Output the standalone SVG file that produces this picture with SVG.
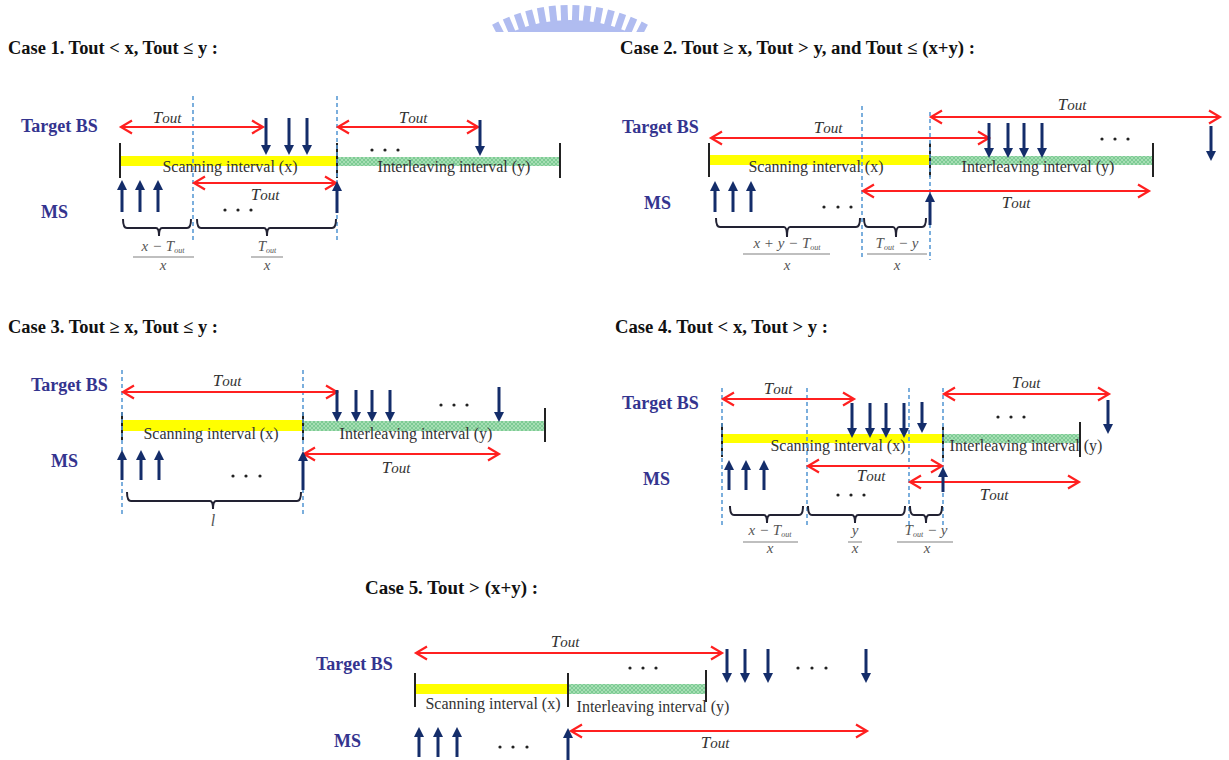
<svg xmlns="http://www.w3.org/2000/svg" width="1229" height="760" viewBox="0 0 1229 760">
<style>
.title{font-family:"Liberation Serif",serif;font-weight:bold;font-size:18px;fill:#111}
.lab{font-family:"Liberation Serif",serif;font-weight:bold;font-size:18px;fill:#34348f}
.iv{font-family:"Liberation Serif",serif;font-size:16px;fill:#333;text-anchor:middle}
.tout{font-family:"Liberation Serif",serif;font-style:italic;font-size:17px;fill:#333;text-anchor:middle}
.tout tspan{font-size:15px}
.fr{font-family:"Liberation Serif",serif;font-style:italic;font-size:15px;fill:#555;text-anchor:middle}
.fr .sub{font-size:8px}
.red{stroke:#ff2020;stroke-width:2;fill:none;marker-start:url(#rh);marker-end:url(#rh)}
.nv{stroke:#142d6a;stroke-width:3;fill:none;marker-end:url(#nh)}
.dash{stroke:#5b9bd5;stroke-width:1.6;stroke-dasharray:4 3}
.tick{stroke:#222;stroke-width:2}
.brace{stroke:#222233;stroke-width:2;fill:none}
.fl{stroke:#aaa;stroke-width:1.5}
.dot{fill:#222}
.yel{fill:#ffff00}
.grn{fill:url(#hatch)}
</style>
<defs>
<pattern id="hatch" patternUnits="userSpaceOnUse" width="4" height="4">
<rect width="4" height="4" fill="#a6deb4"/>
<path d="M0,0 L4,4 M4,0 L0,4" stroke="#72c68c" stroke-width="0.8"/>
</pattern>
<marker id="rh" markerUnits="userSpaceOnUse" viewBox="-13 -8 16 16" refX="0" refY="0" markerWidth="16" markerHeight="16" orient="auto-start-reverse" overflow="visible">
<path d="M-11,-6.5 L0,0 L-11,6.5" fill="none" stroke="#ff2020" stroke-width="2.2"/>
</marker>
<marker id="nh" markerUnits="userSpaceOnUse" viewBox="-2 -6 12 12" refX="0" refY="0" markerWidth="12" markerHeight="12" orient="auto" overflow="visible">
<path d="M-1,-5 L9,0 L-1,5Z" fill="#142d6a"/>
</marker>
<clipPath id="lc"><rect x="470" y="0" width="200" height="32"/></clipPath>
</defs>
<rect width="1229" height="760" fill="#fff"/>

<g id="logo" clip-path="url(#lc)" fill="#b0bcf0">
<circle cx="570" cy="168" r="148"/>
<g transform="translate(570,168)">
<rect x="-3.5" y="-163" width="7" height="18" transform="rotate(-27.3)"/>
<rect x="-3.5" y="-163" width="7" height="18" transform="rotate(-23.1)"/>
<rect x="-3.5" y="-163" width="7" height="18" transform="rotate(-18.9)"/>
<rect x="-3.5" y="-163" width="7" height="18" transform="rotate(-14.7)"/>
<rect x="-3.5" y="-163" width="7" height="18" transform="rotate(-10.5)"/>
<rect x="-3.5" y="-163" width="7" height="18" transform="rotate(-6.3)"/>
<rect x="-3.5" y="-163" width="7" height="18" transform="rotate(-2.1)"/>
<rect x="-3.5" y="-163" width="7" height="18" transform="rotate(2.1)"/>
<rect x="-3.5" y="-163" width="7" height="18" transform="rotate(6.3)"/>
<rect x="-3.5" y="-163" width="7" height="18" transform="rotate(10.5)"/>
<rect x="-3.5" y="-163" width="7" height="18" transform="rotate(14.7)"/>
<rect x="-3.5" y="-163" width="7" height="18" transform="rotate(18.9)"/>
<rect x="-3.5" y="-163" width="7" height="18" transform="rotate(23.1)"/>
<rect x="-3.5" y="-163" width="7" height="18" transform="rotate(27.3)"/>
</g>
</g>

<!-- CASE 1 -->
<g id="case1">
<text class="title" x="8" y="54" textLength="210" lengthAdjust="spacingAndGlyphs">Case 1. Tout &lt; x, Tout ≤ y :</text>
<text class="lab" x="21" y="132">Target BS</text>
<text class="lab" x="41" y="218">MS</text>
<rect class="yel" x="120" y="156" width="217" height="10"/>
<rect class="grn" x="337" y="157" width="223" height="9"/>
<line class="tick" x1="120" y1="143" x2="120" y2="178"/>
<line class="tick" x1="337" y1="143" x2="337" y2="178"/>
<line class="tick" x1="560" y1="143" x2="560" y2="178"/>
<text class="iv" x="230" y="172">Scanning interval (x)</text>
<text class="iv" x="454" y="172">Interleaving interval (y)</text>
<line class="dash" x1="193" y1="96" x2="193" y2="240"/>
<line class="dash" x1="337" y1="96" x2="337" y2="240"/>
<g id="c1-connectors">
<path class="red" d="M121,127 H263"/>
<path class="red" d="M338,127 H478"/>
<path class="red" d="M194,183 H336"/>
<path class="nv" d="M266,118 V146"/>
<path class="nv" d="M289,118 V146"/>
<path class="nv" d="M307,118 V146"/>
<path class="nv" d="M480,120 V147"/>
<path class="nv" d="M122,212 V189"/>
<path class="nv" d="M140,212 V189"/>
<path class="nv" d="M158,212 V189"/>
<path class="nv" d="M337,213 V190"/>
</g>
<text class="tout" x="167" y="123">T<tspan>out</tspan></text>
<text class="tout" x="413" y="123">T<tspan>out</tspan></text>
<text class="tout" x="265" y="200">T<tspan>out</tspan></text>
<circle class="dot" cx="372" cy="150" r="1.6"/><circle class="dot" cx="385" cy="150" r="1.6"/><circle class="dot" cx="398" cy="150" r="1.6"/>
<circle class="dot" cx="225" cy="210" r="1.6"/><circle class="dot" cx="238" cy="210" r="1.6"/><circle class="dot" cx="251" cy="210" r="1.6"/>
<path class="brace" d="M123,219 Q123,228 127,228 H156 Q159,228 159,236 Q159,228 162,228 H187 Q191,228 191,219"/>
<path class="brace" d="M197,219 Q197,228 201,228 H264 Q267,228 267,236 Q267,228 270,228 H332 Q336,228 336,219"/>
<text class="fr" x="163" y="251">x − T<tspan class="sub" dy="2">out</tspan></text>
<line class="fl" x1="133" y1="257" x2="194" y2="257"/>
<text class="fr" x="163" y="270">x</text>
<text class="fr" x="267" y="251">T<tspan class="sub" dy="2">out</tspan></text>
<line class="fl" x1="251" y1="257" x2="283" y2="257"/>
<text class="fr" x="267" y="270">x</text>
</g>

<!-- CASE 2 -->
<g id="case2">
<text class="title" x="620" y="54" textLength="355" lengthAdjust="spacingAndGlyphs">Case 2. Tout ≥ x, Tout &gt; y, and  Tout ≤ (x+y) :</text>
<text class="lab" x="622" y="133">Target BS</text>
<text class="lab" x="644" y="209">MS</text>
<rect class="yel" x="710" y="155" width="220" height="10"/>
<rect class="grn" x="930" y="156" width="223" height="9"/>
<line class="tick" x1="709" y1="143" x2="709" y2="177"/>
<line class="tick" x1="930" y1="143" x2="930" y2="177"/>
<line class="tick" x1="1153" y1="143" x2="1153" y2="177"/>
<text class="iv" x="816" y="172">Scanning interval (x)</text>
<text class="iv" x="1038" y="172">Interleaving interval (y)</text>
<line class="dash" x1="862" y1="106" x2="862" y2="260"/>
<line class="dash" x1="930" y1="112" x2="930" y2="260"/>
<g id="c2-connectors">
<path class="red" d="M931,117 H1220"/>
<path class="red" d="M711,138 H989"/>
<path class="red" d="M863,191 H1149"/>
<path class="nv" d="M989,123 V149"/>
<path class="nv" d="M1008,123 V149"/>
<path class="nv" d="M1024,123 V149"/>
<path class="nv" d="M1042,123 V149"/>
<path class="nv" d="M1211,126 V152"/>
<path class="nv" d="M715,212 V190"/>
<path class="nv" d="M733,212 V190"/>
<path class="nv" d="M751,212 V190"/>
<path class="nv" d="M930,225 V201"/>
</g>
<text class="tout" x="1072" y="110">T<tspan>out</tspan></text>
<text class="tout" x="828" y="133">T<tspan>out</tspan></text>
<text class="tout" x="1016" y="208">T<tspan>out</tspan></text>
<circle class="dot" cx="1102" cy="139" r="1.6"/><circle class="dot" cx="1115" cy="139" r="1.6"/><circle class="dot" cx="1128" cy="139" r="1.6"/>
<circle class="dot" cx="824" cy="207" r="1.6"/><circle class="dot" cx="838" cy="207" r="1.6"/><circle class="dot" cx="851" cy="207" r="1.6"/>
<path class="brace" d="M716,218 Q716,227 720,227 H784 Q787,227 787,237 Q787,227 790,227 H856 Q860,227 860,218"/>
<path class="brace" d="M864,218 Q864,227 868,227 H893 Q896,227 896,237 Q896,227 899,227 H922 Q926,227 926,218"/>
<text class="fr" x="787" y="248">x + y − T<tspan class="sub" dy="2">out</tspan></text>
<line class="fl" x1="743" y1="254" x2="830" y2="254"/>
<text class="fr" x="787" y="270">x</text>
<text class="fr" x="897" y="248">T<tspan class="sub" dy="2">out</tspan><tspan dy="-2">  − y</tspan></text>
<line class="fl" x1="867" y1="254" x2="927" y2="254"/>
<text class="fr" x="897" y="270">x</text>
</g>

<!-- CASE 3 -->
<g id="case3">
<text class="title" x="8" y="333" textLength="210" lengthAdjust="spacingAndGlyphs">Case 3. Tout ≥ x, Tout ≤ y :</text>
<text class="lab" x="31" y="391">Target BS</text>
<text class="lab" x="51" y="467">MS</text>
<rect class="yel" x="122" y="420" width="181" height="11"/>
<rect class="grn" x="303" y="421" width="242" height="10"/>
<line class="tick" x1="122" y1="412" x2="122" y2="440"/>
<line class="tick" x1="303" y1="412" x2="303" y2="440"/>
<line class="tick" x1="545" y1="408" x2="545" y2="442"/>
<text class="iv" x="211" y="439">Scanning interval (x)</text>
<text class="iv" x="416" y="439">Interleaving interval (y)</text>
<line class="dash" x1="122" y1="370" x2="122" y2="515"/>
<line class="dash" x1="303" y1="370" x2="303" y2="515"/>
<g id="c3-connectors">
<path class="red" d="M123,392 H337"/>
<path class="red" d="M304,454 H499"/>
<path class="nv" d="M337,390 V413"/>
<path class="nv" d="M356,390 V413"/>
<path class="nv" d="M372,390 V413"/>
<path class="nv" d="M390,390 V413"/>
<path class="nv" d="M499,387 V413"/>
<path class="nv" d="M122,480 V459"/>
<path class="nv" d="M141,480 V459"/>
<path class="nv" d="M159,480 V459"/>
<path class="nv" d="M303,490 V460"/>
</g>
<text class="tout" x="227" y="386">T<tspan>out</tspan></text>
<text class="tout" x="396" y="473">T<tspan>out</tspan></text>
<circle class="dot" cx="441" cy="405" r="1.6"/><circle class="dot" cx="454" cy="405" r="1.6"/><circle class="dot" cx="467" cy="405" r="1.6"/>
<circle class="dot" cx="233" cy="476" r="1.6"/><circle class="dot" cx="246" cy="476" r="1.6"/><circle class="dot" cx="260" cy="476" r="1.6"/>
<path class="brace" d="M127,492 Q127,501 131,501 H210 Q213,501 213,509 Q213,501 216,501 H297 Q301,501 301,492"/>
<text class="fr" x="213" y="526" style="font-size:16px">l</text>
</g>

<!-- CASE 4 -->
<g id="case4">
<text class="title" x="615" y="333" textLength="213" lengthAdjust="spacingAndGlyphs">Case 4. Tout &lt; x, Tout &gt; y :</text>
<text class="lab" x="622" y="409">Target BS</text>
<text class="lab" x="643" y="485">MS</text>
<rect class="yel" x="722" y="434" width="221" height="9"/>
<rect class="grn" x="943" y="434" width="137" height="9"/>
<line class="tick" x1="722" y1="423" x2="722" y2="457"/>
<line class="tick" x1="943" y1="427" x2="943" y2="458"/>
<line class="tick" x1="1080" y1="422" x2="1080" y2="457"/>
<text class="iv" x="838" y="451">Scanning interval (x)</text>
<text class="iv" x="1026" y="451">Interleaving interval (y)</text>
<line class="dash" x1="722" y1="388" x2="722" y2="527"/>
<line class="dash" x1="807" y1="388" x2="807" y2="527"/>
<line class="dash" x1="909" y1="388" x2="909" y2="527"/>
<line class="dash" x1="943" y1="388" x2="943" y2="527"/>
<g id="c4-connectors">
<path class="red" d="M723,399 H854"/>
<path class="red" d="M944,394 H1109"/>
<path class="red" d="M808,466 H942"/>
<path class="red" d="M910,482 H1079"/>
<path class="nv" d="M852,403 V429"/>
<path class="nv" d="M870,403 V429"/>
<path class="nv" d="M886,403 V429"/>
<path class="nv" d="M904,403 V429"/>
<path class="nv" d="M922,402 V424"/>
<path class="nv" d="M1108,400 V425"/>
<path class="nv" d="M729,490 V469"/>
<path class="nv" d="M746,490 V469"/>
<path class="nv" d="M764,490 V469"/>
<path class="nv" d="M943,492 V476"/>
</g>
<text class="tout" x="778" y="394">T<tspan>out</tspan></text>
<text class="tout" x="1026" y="388">T<tspan>out</tspan></text>
<text class="tout" x="871" y="481">T<tspan>out</tspan></text>
<text class="tout" x="994" y="500">T<tspan>out</tspan></text>
<circle class="dot" cx="998" cy="417" r="1.6"/><circle class="dot" cx="1011" cy="417" r="1.6"/><circle class="dot" cx="1024" cy="417" r="1.6"/>
<circle class="dot" cx="838" cy="495" r="1.6"/><circle class="dot" cx="851" cy="495" r="1.6"/><circle class="dot" cx="864" cy="495" r="1.6"/>
<path class="brace" d="M730,506 Q730,515 734,515 H764 Q767,515 767,523 Q767,515 770,515 H799 Q803,515 803,506"/>
<path class="brace" d="M808,506 Q808,515 812,515 H852 Q855,515 855,523 Q855,515 858,515 H901 Q905,515 905,506"/>
<path class="brace" d="M910,506 Q910,515 914,515 H923 Q926,515 926,523 Q926,515 929,515 H938 Q942,515 942,506"/>
<text class="fr" x="770" y="535">x − T<tspan class="sub" dy="2">out</tspan></text>
<line class="fl" x1="743" y1="542" x2="798" y2="542"/>
<text class="fr" x="770" y="553">x</text>
<text class="fr" x="855" y="535">y</text>
<line class="fl" x1="848" y1="542" x2="862" y2="542"/>
<text class="fr" x="855" y="553">x</text>
<text class="fr" x="926" y="535">T<tspan class="sub" dy="2">out</tspan><tspan dy="-2">  − y</tspan></text>
<line class="fl" x1="897" y1="542" x2="953" y2="542"/>
<text class="fr" x="927" y="553">x</text>
</g>

<!-- CASE 5 -->
<g id="case5">
<text class="title" x="365" y="594" textLength="173" lengthAdjust="spacingAndGlyphs">Case 5. Tout &gt; (x+y)  :</text>
<text class="lab" x="316" y="670">Target BS</text>
<text class="lab" x="334" y="747">MS</text>
<rect class="yel" x="415" y="684" width="153" height="10"/>
<rect class="grn" x="568" y="684" width="138" height="10"/>
<line class="tick" x1="415" y1="673" x2="415" y2="707"/>
<line class="tick" x1="568" y1="673" x2="568" y2="707"/>
<line class="tick" x1="706" y1="670" x2="706" y2="702"/>
<text class="iv" x="493" y="709">Scanning interval (x)</text>
<text class="iv" x="653" y="712">Interleaving interval (y)</text>
<g id="c5-connectors">
<path class="red" d="M416,653 H722"/>
<path class="red" d="M571,731 H867"/>
<path class="nv" d="M727,649 V674"/>
<path class="nv" d="M745,649 V674"/>
<path class="nv" d="M768,649 V674"/>
<path class="nv" d="M866,649 V674"/>
<path class="nv" d="M419,757 V736"/>
<path class="nv" d="M438,757 V736"/>
<path class="nv" d="M457,757 V736"/>
<path class="nv" d="M568,760 V737"/>
</g>
<text class="tout" x="565" y="647">T<tspan>out</tspan></text>
<text class="tout" x="715" y="748">T<tspan>out</tspan></text>
<circle class="dot" cx="630" cy="668" r="1.6"/><circle class="dot" cx="643" cy="668" r="1.6"/><circle class="dot" cx="656" cy="668" r="1.6"/>
<circle class="dot" cx="798" cy="668" r="1.6"/><circle class="dot" cx="812" cy="668" r="1.6"/><circle class="dot" cx="826" cy="668" r="1.6"/>
<circle class="dot" cx="500" cy="747" r="1.6"/><circle class="dot" cx="513" cy="747" r="1.6"/><circle class="dot" cx="527" cy="747" r="1.6"/>
</g>
</svg>
